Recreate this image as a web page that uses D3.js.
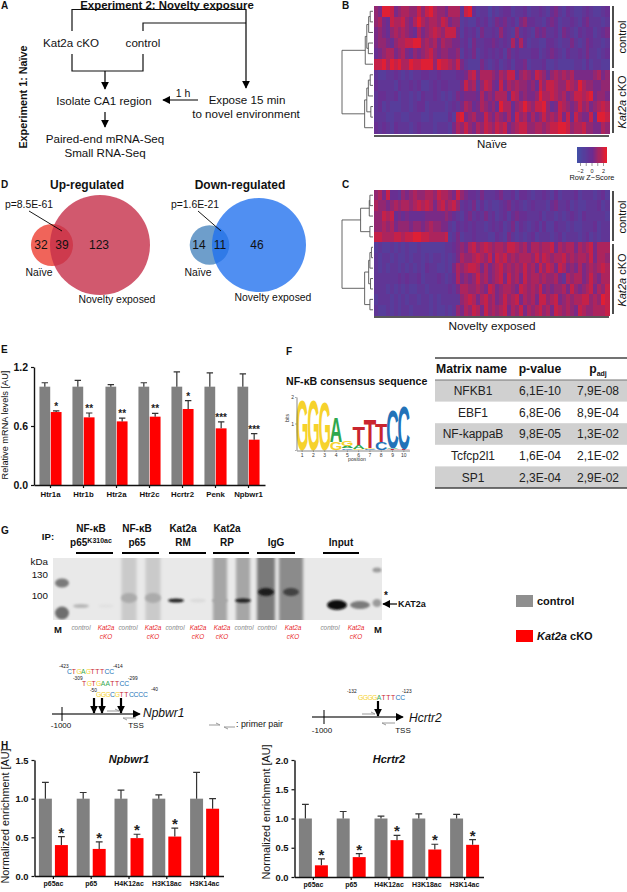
<!DOCTYPE html>
<meta charset="utf-8">
<script src="https://d3js.org/d3.v7.min.js"></script>
<style>
  body { margin: 0; background: #fff; }
  text { font-family: "Liberation Sans", Arial, sans-serif; }
</style>
<div id="my_dataviz"></div>

<script>
// ---- data ----

// heatmaps, one string per row, digit 0 (blue) .. 9 (red)
var heatNaive = [
  "6599856776 6868976657 7738942331 3234423342 3343245324 3223432234",
  "6754877865 7976776875 6623224342 3545342564 4332454233 4324533323",
  "5654676765 4756787688 8524342533 4364326343 2545334254 3243442345",
  "5665467788 9967675766 5534253344 5434374742 3322443233 5323543323",
  "4567756754 6567865665 5624352343 4342534333 4423454324 3343533234",
  "8897989779 8899969887 6853222532 3423424452 3334223222 2332423322",
  "3223343232 3344334333 3445785777 6576884676 5876467676 7555556756",
  "4333324334 3422343443 3358673687 5485767665 6486887668 7697665566",
  "3443342332 3243343232 3545554756 5777487565 5697787675 6887895665",
  "3423222332 3442333323 4357645765 6497746797 6889645876 5686756787",
  "3332233223 3322322224 2895675586 5765748675 7568676858 4865584998",
  "4343243332 3433323332 5768657687 6878567886 6776788998 6778665576"
];
var heatNovelty = [
  "6758443656 7667768776 5865443533 3453342443 2334324233 3423332342",
  "7665676776 7878757867 8634352423 2234534323 4333245334 2322333423",
  "6687845454 4445555565 4324534353 4234245443 3342332323 4324333332",
  "6676756665 6656766553 2434343323 4342352432 3424224332 3223334233",
  "8877788788 9988777782 3523343332 2432532323 4233323423 3323423233",
  "2322323232 2322222233 4565786787 6776887675 7767785767 7576785777",
  "3233232232 3323233232 3576678768 5878676777 6868767786 7677685776",
  "3232332323 2324332232 5767887575 6786767686 7586875875 6575676787",
  "3333334343 3423334323 4756568675 6785867586 7767667537 6775686577",
  "3332323232 2332333334 3577667658 7567765876 7685656675 8656785768",
  "2333232323 3233232333 3367875786 7568678576 7588678567 6778867698",
  "3223232332 3333232232 3657687586 7678576857 6786758767 6587667778"
];
// dendrograms: [height, child, child], a number is a heatmap row
var treeNaive = [1,
  [.25, [.2, [.14, [.09, 0, 1], 2], [.15, 3, 4]], 5],
  [.27, [.2, [.15, [.09, 6, 7], 8], [.07, 9, 10]], 11]];
var treeNovelty = [1,
  [.4, [.12, [.1, 0, 1], 2], [.1, 3, 4]],
  [.27, [.14, [.1, [.05, 5, 6], 7], [.08, 8, 9]], [.1, 10, 11]]];
var zTicks = [-2, -1, 0, 1, 2];

// venn counts
var vennUp = {naive: 32, both: 39, novelty: 123};
var vennDown = {naive: 14, both: 11, novelty: 46};

// panel E
var genesE = ["Htr1a", "Htr1b", "Htr2a", "Htr2c", "Hcrtr2", "Penk", "Npbwr1"];
var ctrlE = [1, 1, 1, 1, 1, 1, 1];
var ctrlErrE = [1.04, 1.065, 1.02, 1.04, 1.15, 1.14, 1.13];
var kat2aE = [.742, .688, .647, .695, .773, .576, .461];
var kat2aErrE = [.753, .732, .681, .729, .858, .641, .522];
var starsE = ["*", "**", "**", "**", "*", "***", "***"];
var ticksE = [0, .6, 1.2];

// panel F
var logoStacks = [
  [["G", 1.9]],
  [["G", 1.9]],
  [["G", 1.85]],
  [["G", .3], ["A", .95]],
  [["C", .06], ["A", .08], ["G", .22]],
  [["G", .04], ["A", .14], ["T", .68]],
  [["C", .03], ["G", .05], ["T", 1.1]],
  [["C", .3], ["T", .68]],
  [["T", .03], ["A", .06], ["C", 1.48]],
  [["T", .05], ["C", 1.65]]
];
var matrixNames = ["NFKB1", "EBF1", "NF-kappaB", "Tcfcp2l1", "SP1"];
var pValues = ["6,1E-10", "6,8E-06", "9,8E-05", "1,6E-04", "2,3E-04"];
var pAdj = ["7,9E-08", "8,9E-04", "1,3E-02", "2,1E-02", "2,9E-02"];

// panel G, the gel
var laneNames = ["control", "Kat2a cKO", "control", "Kat2a cKO", "control", "Kat2a cKO", "Kat2a cKO", "control", "control", "Kat2a cKO", "control", "Kat2a cKO"];
var laneSmear = [0, 0, .14, .14, 0, 0, .3, .3, .5, .42, 0, 0];
var laneBand = [.22, .03, .28, .28, .9, .06, .3, .92, .92, .75, 1, .5];

// panel H
var marks = ["p65ac", "p65", "H4K12ac", "H3K18ac", "H3K14ac"];
var ctrlNp = [1, 1, 1, 1, 1];
var ctrlErrNp = [1.21, 1.08, 1.11, 1.05, 1.34];
var kat2aNp = [.4, .35, .49, .51, .87];
var kat2aErrNp = [.51, .44, .54, .62, 1.0];
var starsNp = ["*", "*", "*", "*", ""];
var ticksNp = [0, .5, 1, 1.5];
var ctrlHc = [1, 1, 1, 1, 1];
var ctrlErrHc = [1.24, 1.12, 1.04, 1.08, 1.07];
var kat2aHc = [.2, .34, .63, .47, .55];
var kat2aErrHc = [.31, .40, .71, .56, .64];
var starsHc = ["*", "*", "*", "*", "*"];
var ticksHc = [0, .5, 1, 1.5, 2];

var grayBar = "#808080", redBar = "#ff0000";

var svg = d3.select("#my_dataviz").append("svg")
  .attr("width", 627).attr("height", 892)
  .style("display", "block");

var defs = svg.append("defs");
defs.append("marker").attr("id", "head")
  .attr("viewBox", "0 0 10 10").attr("refX", 9).attr("refY", 5)
  .attr("markerUnits", "userSpaceOnUse")
  .attr("markerWidth", 8).attr("markerHeight", 8).attr("orient", "auto")
  .append("path").attr("d", "M0,0 L10,5 L0,10 Z").attr("fill", "#000");
defs.append("filter").attr("id", "blur1").attr("x", "-40%").attr("y", "-80%").attr("width", "180%").attr("height", "260%")
  .append("feGaussianBlur").attr("stdDeviation", 1.1);
defs.append("filter").attr("id", "blur2").attr("x", "-40%").attr("y", "-20%").attr("width", "180%").attr("height", "140%")
  .append("feGaussianBlur").attr("stdDeviation", 1.6);
defs.append("clipPath").attr("id", "gelClip")
  .append("rect").attr("x", 53).attr("y", 558).attr("width", 329).attr("height", 62);

// little helpers
function txt(x, y, s, o) {
  o = o || {};
  var t = svg.append("text").attr("x", x).attr("y", y)
    .attr("font-size", o.size || 11)
    .attr("text-anchor", o.anchor || "middle")
    .attr("font-weight", o.bold ? "bold" : null)
    .attr("font-style", o.italic ? "italic" : null)
    .attr("fill", o.fill || "#111");
  if (o.rotate) t.attr("transform", "rotate(" + o.rotate + "," + x + "," + y + ")");
  if (Array.isArray(s)) {
    s.forEach(function(p) {
      t.append("tspan").text(p[0])
        .attr("font-style", p[1] === "i" ? "italic" : null)
        .attr("font-size", p[1] === "sup" || p[1] === "sub" ? 7 : null)
        .attr("dy", p[1] === "sup" ? -3.5 : p[1] === "sub" ? 3 : null);
    });
  } else t.text(s);
  return t;
}
function line(x1, y1, x2, y2, w, color, arrow) {
  var l = svg.append("line").attr("x1", x1).attr("y1", y1).attr("x2", x2).attr("y2", y2)
    .attr("stroke", color || "#000").attr("stroke-width", w || 1);
  if (arrow) l.attr("marker-end", "url(#head)");
  return l;
}

// ---- A ----
txt(1, 9, "A", {anchor: "start", bold: true, size: 10});
txt(167, 9, "Experiment 2: Novelty exposure", {bold: true, size: 11.4});
txt(27, 97, "Experiment 1: Naïve", {bold: true, size: 10.8, rotate: -90});
svg.append("path").attr("fill", "none").attr("stroke", "#111").attr("stroke-width", 1.2)
  .attr("d", "M72,31 V9.5 H246 M143,31 V23 H246 M72,54 V71 H143 V54");
line(246, 9, 246, 88, 1.2, "#000", true);
line(105, 71, 105, 89, 1.2, "#000", true);
line(105, 112, 105, 127, 1.2, "#000", true);
line(198, 100, 163, 100, 1.2, "#000", true);
txt(71, 47, "Kat2a cKO", {size: 11.6});
txt(143, 47, "control", {size: 11.6});
txt(104, 105, "Isolate CA1 region", {size: 11.6});
txt(247, 104, "Expose 15 min", {size: 11.6});
txt(246, 118, "to novel environment", {size: 11.6});
txt(183, 97, "1 h", {size: 10.5});
txt(105, 143, "Paired-end mRNA-Seq", {size: 11.6});
txt(105, 157, "Small RNA-Seq", {size: 11.6});

// ---- B and C heatmaps ----
var zColor = d3.scaleLinear().domain([-2.6, 0, 2.6]).range(["#424fa6", "#6c2b90", "#ee1d28"]);
function digitToZ(d) { return (d - 4.5) / 4.5 * 2.3; }

function heatmap(rows, tree, top, bottom) {
  var cells = rows.map(function(r) { return r.replace(/ /g, "").split("").map(Number); });
  var x = d3.scaleBand().domain(d3.range(cells[0].length)).range([374, 609]);
  var y = d3.scaleBand().domain(d3.range(cells.length)).range([top, bottom]);
  var g = svg.append("g").attr("shape-rendering", "crispEdges");
  cells.forEach(function(r, i) {
    g.selectAll(null).data(r).enter().append("rect")
      .attr("x", function(d, j) { return x(j); })
      .attr("y", y(i))
      .attr("width", x.bandwidth() + .5)
      .attr("height", y.bandwidth() + .5)
      .attr("fill", function(d) { return zColor(digitToZ(d)); });
  });
  // dendrogram
  var hx = d3.scaleLinear().domain([0, 1]).range([373, 342]);
  var path = d3.path();
  function walk(n) {
    if (typeof n === "number") return {y: y(n) + y.bandwidth() / 2, x: hx(0)};
    var a = walk(n[1]), b = walk(n[2]), nx = hx(n[0]);
    path.moveTo(a.x, a.y); path.lineTo(nx, a.y); path.lineTo(nx, b.y); path.lineTo(b.x, b.y);
    return {y: (a.y + b.y) / 2, x: nx};
  }
  walk(tree);
  svg.append("path").attr("d", path.toString()).attr("fill", "none")
    .attr("stroke", "#555").attr("stroke-width", .9);
}
heatmap(heatNaive, treeNaive, 6, 133);
heatmap(heatNovelty, treeNovelty, 190, 315);

txt(342, 9, "B", {anchor: "start", bold: true, size: 10});
txt(342, 188, "C", {anchor: "start", bold: true, size: 10});

line(613, 6, 613, 68, 1.4);
line(613, 71, 613, 133, 1.4);
line(613, 191, 613, 241, 1.4);
line(613, 244, 613, 314, 1.4);
txt(626, 37, "control", {size: 11, rotate: -90});
txt(626, 102, [["Kat2a", "i"], [" cKO"]], {size: 11, rotate: -90});
txt(626, 217, "control", {size: 11, rotate: -90});
txt(626, 280, [["Kat2a", "i"], [" cKO"]], {size: 11, rotate: -90});
line(374, 136, 609, 136, 1.6, "#222");
line(374, 317, 609, 317, 1.6, "#222");
txt(492, 148, "Naïve", {size: 11.5});
txt(492, 330, "Novelty exposed", {size: 11.8});

// colour key
var zx = d3.scaleLinear().domain([-2, 2]).range([580, 603]);
var keyZ = d3.range(-2.6, 2.6, .2);
svg.append("g").attr("shape-rendering", "crispEdges").selectAll("rect").data(keyZ).enter().append("rect")
  .attr("x", function(d) { return zx(d); })
  .attr("y", 147).attr("width", 1.6).attr("height", 16)
  .attr("fill", function(d) { return zColor(d); });
var keyAxis = svg.append("g").attr("transform", "translate(0,163)")
  .call(d3.axisBottom(zx).tickValues(zTicks).tickSize(3).tickPadding(3)
    .tickFormat(function(d) { return d % 2 === 0 ? d3.format("d")(d) : ""; }));
keyAxis.select(".domain").remove();
keyAxis.selectAll("line").attr("stroke", "#555").attr("stroke-width", .6);
keyAxis.selectAll("text").attr("font-size", 5.5).attr("font-family", "Liberation Sans").attr("fill", "#222");
txt(592, 180, "Row Z−Score", {size: 7.4});

// ---- D venns ----
txt(1, 188, "D", {anchor: "start", bold: true, size: 10});
function venn(v, cx1, cx2, cy, rBig, c1, c2, c2op) {
  var r = d3.scaleLinear().domain([0, v.both + v.novelty]).range([0, rBig]);
  svg.append("circle").attr("cx", cx1).attr("cy", cy).attr("r", r(v.naive + v.both) * .96).attr("fill", c1);
  svg.append("circle").attr("cx", cx2).attr("cy", cy).attr("r", r(v.both + v.novelty)).attr("fill", c2).attr("opacity", c2op);
}
venn(vennUp, 52, 100, 245, 50, "#f0645a", "#c5304a", .8);
venn(vennDown, 209.5, 259, 245, 47, "#6e9ecb", "#1f6fee", .78);
txt(87, 189, "Up-regulated", {bold: true, size: 12});
txt(240, 189, "Down-regulated", {bold: true, size: 12});
txt(41, 249, vennUp.naive, {size: 12});
txt(62, 249, vennUp.both, {size: 12});
txt(99, 249, vennUp.novelty, {size: 12});
txt(199, 249, vennDown.naive, {size: 12});
txt(220, 249, vennDown.both, {size: 12});
txt(257, 249, vennDown.novelty, {size: 12});
txt(29, 208, "p=8.5E-61", {size: 10.4});
txt(195, 208, "p=1.6E-21", {size: 10.4});
line(29, 211, 62, 231, .9);
line(198, 211, 221, 231, .9);
txt(39, 276, "Naïve", {size: 10.4});
txt(198, 276, "Naïve", {size: 10.4});
txt(117, 303, "Novelty exposed", {size: 10.4});
txt(273, 301, "Novelty exposed", {size: 10.4});

// ---- grouped bars, used for E and H ----
function bars(o) {
  var x = d3.scaleBand().domain(o.cats).range(o.xr).paddingInner(o.pad).paddingOuter(o.pad / 2);
  var sub = d3.scaleBand().domain([0, 1]).range([0, x.bandwidth()]).paddingInner(o.gap);
  var y = d3.scaleLinear().domain(o.yd).range(o.yr);
  var rows = o.cats.map(function(c, i) {
    return [{c: c, s: 0, v: o.ctrl[i], e: o.ctrlErr[i], color: grayBar},
            {c: c, s: 1, v: o.kat[i], e: o.katErr[i], color: redBar, star: o.stars[i]}];
  });
  var all = d3.merge(rows);
  var g = svg.append("g");
  g.selectAll("rect").data(all).enter().append("rect")
    .attr("x", function(d) { return x(d.c) + sub(d.s); })
    .attr("y", function(d) { return y(d.v); })
    .attr("width", sub.bandwidth())
    .attr("height", function(d) { return y(0) - y(d.v); })
    .attr("fill", function(d) { return d.color; });
  // error bars
  function mid(d) { return x(d.c) + sub(d.s) + sub.bandwidth() / 2; }
  g.selectAll(".eb").data(all).enter().append("path").attr("class", "eb")
    .attr("d", function(d) {
      return "M" + mid(d) + "," + y(d.v) + "V" + y(d.e) + "M" + (mid(d) - o.cap) + "," + y(d.e) + "H" + (mid(d) + o.cap);
    })
    .attr("fill", "none").attr("stroke", "#333").attr("stroke-width", 1.2);
  g.selectAll(".st").data(all.filter(function(d) { return d.star; })).enter().append("text").attr("class", "st")
    .attr("x", mid)
    .attr("y", function(d) { return y(d.e) + o.starDy; })
    .attr("text-anchor", "middle").attr("font-size", o.starSize).attr("font-weight", "bold")
    .attr("fill", "#222")
    .text(function(d) { return d.star; });
  // axes
  var ax = svg.append("g").attr("transform", "translate(" + o.xr[0] + ",0)")
    .call(d3.axisLeft(y).tickValues(o.yTicks).tickFormat(d3.format(".1f")).tickSize(3).tickPadding(3).tickSizeOuter(0));
  ax.selectAll("text").attr("font-size", o.yFont).attr("font-weight", "bold").attr("font-family", "Liberation Sans").attr("fill", "#111");
  var bx = svg.append("g").attr("transform", "translate(0," + y(0) + ")")
    .call(d3.axisBottom(x).tickSize(3).tickPadding(o.xPad).tickSizeOuter(0));
  bx.selectAll("text").attr("font-size", o.xFont).attr("font-weight", "bold").attr("font-family", "Liberation Sans").attr("fill", "#111");
  [ax, bx].forEach(function(a) {
    a.select(".domain").attr("stroke", "#111").attr("stroke-width", 1.4);
    a.selectAll("line").attr("stroke", "#111").attr("stroke-width", 1.2);
  });
}

// ---- E ----
txt(1, 353, "E", {anchor: "start", bold: true, size: 10});
bars({cats: genesE, ctrl: ctrlE, ctrlErr: ctrlErrE, kat: kat2aE, katErr: kat2aErrE, stars: starsE,
  xr: [34, 265], yd: [0, 1.2], yr: [485, 367], yTicks: ticksE, pad: .33, gap: .05, cap: 3.2,
  starDy: -1, starSize: 10, yFont: 10.5, xFont: 7.8, xPad: 3});
txt(8, 425, "Relative mRNA levels [AU]", {size: 9.2, rotate: -90});

// ---- F ----
txt(286, 355, "F", {anchor: "start", bold: true, size: 10});
txt(286, 385, "NF-κB consensus sequence", {anchor: "start", bold: true, size: 10.6});

var logoX = d3.scaleBand().domain(d3.range(1, 11)).range([296.5, 409.5]);
var logoY = d3.scaleLinear().domain([0, 2]).range([450, 397]);
var letterColor = {G: "#f6d22c", A: "#2fa84f", T: "#c9252e", C: "#2272b8"};
var letterWidth = {G: .778, A: .722, T: .611, C: .722};
logoStacks.forEach(function(st, i) {
  var base = 0;
  st.forEach(function(s) {
    var h = logoY(base) - logoY(base + s[1]);
    var cx = logoX(i + 1) + logoX.bandwidth() / 2;
    svg.append("text").text(s[0])
      .attr("text-anchor", "middle").attr("font-size", 10).attr("font-weight", "bold")
      .attr("fill", letterColor[s[0]])
      .attr("transform", "translate(" + cx + "," + logoY(base) + ") scale(" + (12.5 / (letterWidth[s[0]] * 10)) + "," + (h / 7.2) + ")");
    base += s[1];
  });
});
var lx = svg.append("g").attr("transform", "translate(0,450.5)")
  .call(d3.axisBottom(logoX).tickSize(1.5).tickPadding(1).tickSizeOuter(0));
lx.selectAll("text").attr("font-size", 5).attr("font-family", "Liberation Sans").attr("fill", "#333");
var ly = svg.append("g").attr("transform", "translate(296.5,0)")
  .call(d3.axisLeft(logoY).tickValues([0, 1, 2]).tickSize(1.5).tickPadding(1).tickFormat(function(d) { return d ? d : ""; }).tickSizeOuter(0));
ly.selectAll("text").attr("font-size", 5).attr("font-family", "Liberation Sans").attr("fill", "#333");
[lx, ly].forEach(function(a) {
  a.select(".domain").attr("stroke", "#555").attr("stroke-width", .7);
  a.selectAll("line").attr("stroke", "#555").attr("stroke-width", .5);
});
txt(357, 461, "position", {size: 5.2, fill: "#333"});
txt(289, 418, "bits", {size: 5.2, rotate: -90, fill: "#333"});

// table
var rowY = d3.scaleBand().domain(d3.range(matrixNames.length)).range([380, 488]);
svg.append("g").selectAll("rect").data(d3.range(0, 5, 2)).enter().append("rect")
  .attr("x", 435).attr("width", 192)
  .attr("y", function(d) { return rowY(d); })
  .attr("height", rowY.bandwidth())
  .attr("fill", "#d0d0d0");
line(435, 358, 627, 358, 1.4, "#444");
line(435, 380, 627, 380, 1.2, "#777");
line(435, 488, 627, 488, 1.4, "#444");
txt(436, 373, "Matrix name", {anchor: "start", bold: true, size: 12.2});
txt(540, 373, "p-value", {bold: true, size: 12.2});
txt(598, 373, [["p"], ["adj", "sub"]], {bold: true, size: 12.2});
matrixNames.forEach(function(n, i) {
  var by = rowY(i) + rowY.bandwidth() / 2 + 4.4;
  txt(473, by, n, {size: 12, fill: "#222"});
  txt(540, by, pValues[i], {size: 12, fill: "#222"});
  txt(598, by, pAdj[i], {size: 12, fill: "#222"});
});

// ---- G ----
txt(1, 534, "G", {anchor: "start", bold: true, size: 10});
txt(48, 540, "IP:", {bold: true, size: 9.6});
txt(91, 532, "NF-κB", {bold: true, size: 10});
txt(91, 546, [["p65"], ["K310ac", "sup"]], {bold: true, size: 10});
txt(137, 532, "NF-κB", {bold: true, size: 10});
txt(137, 546, "p65", {bold: true, size: 10});
txt(183, 532, "Kat2a", {bold: true, size: 10});
txt(183, 546, "RM", {bold: true, size: 10});
txt(227, 532, "Kat2a", {bold: true, size: 10});
txt(227, 546, "RP", {bold: true, size: 10});
txt(276, 546, "IgG", {bold: true, size: 10});
txt(341, 546, "Input", {bold: true, size: 10});
[[76, 113], [122, 159], [169, 206], [213, 249], [257, 295], [323, 359]].forEach(function(s) {
  line(s[0], 553, s[1], 553, 2, "#000");
});

var gelShade = d3.scaleLinear().domain([0, 1]).range(["#e9e9e9", "#0a0a0a"]);
var laneX = [81, 106, 129, 153, 176, 198, 220, 243, 266, 291, 337, 360];
var laneW = [16, 16, 15, 15, 16, 16, 14, 14, 18, 24, 16, 16];
var gel = svg.append("g").attr("clip-path", "url(#gelClip)");
gel.append("rect").attr("x", 53).attr("y", 558).attr("width", 329).attr("height", 62).attr("fill", "#e9e9e9");
gel.selectAll(".smear").data(laneSmear).enter().append("rect").attr("class", "smear")
  .attr("x", function(d, i) { return laneX[i] - laneW[i] / 2; })
  .attr("y", 554).attr("width", function(d, i) { return laneW[i]; }).attr("height", 72)
  .attr("filter", "url(#blur2)")
  .attr("fill", function(d) { return gelShade(d); });
gel.selectAll(".band").data(laneBand).enter().append("ellipse").attr("class", "band")
  .attr("cx", function(d, i) { return laneX[i]; })
  .attr("cy", function(d, i) { return i < 2 ? 606 : i < 4 ? 598 : i < 8 ? 600.5 : i < 10 ? 592 : 605; })
  .attr("rx", function(d, i) { return i > 9 ? 10 : 8; })
  .attr("ry", function(d, i) { return i === 10 ? 5 : i > 7 ? 4 : i === 2 || i === 3 ? 5 : 2; })
  .attr("filter", "url(#blur1)")
  .attr("fill", function(d) { return gelShade(d); });
// markers left and right
[[62, 583, 7, 4.5, .5], [62, 613, 7, 6.5, .55], [377, 570, 4.5, 2.5, .35], [377, 603, 4.5, 4, .35]].forEach(function(m) {
  gel.append("ellipse").attr("cx", m[0]).attr("cy", m[1]).attr("rx", m[2]).attr("ry", m[3])
    .attr("fill", gelShade(m[4])).attr("filter", "url(#blur1)");
});
txt(48, 565, "kDa", {anchor: "end", size: 9.8});
txt(48, 578, "130", {anchor: "end", size: 9.8});
txt(48, 599, "100", {anchor: "end", size: 9.8});
txt(58, 633, "M", {bold: true, size: 9.5});
txt(378, 633, "M", {bold: true, size: 9.5});
var laneTextX = [81, 106, 128, 153, 175, 198, 222, 244, 267, 293, 330, 356];
laneNames.forEach(function(n, i) {
  if (n === "control") {
    txt(laneTextX[i], 630, n, {size: 6.4, italic: true, fill: "#8a8a8a"});
  } else {
    txt(laneTextX[i], 630, "Kat2a", {size: 6.4, italic: true, fill: "#e8262a"});
    txt(laneTextX[i], 639, "cKO", {size: 6.4, italic: true, fill: "#e8262a"});
  }
});
txt(386, 599, "*", {bold: true, size: 10});
line(397, 604, 383, 604, 1.2, "#000", true);
txt(398, 607, "KAT2a", {anchor: "start", bold: true, size: 9});

// legend
svg.append("rect").attr("x", 516).attr("y", 595).attr("width", 17).attr("height", 12).attr("fill", "#8f8f8f");
svg.append("rect").attr("x", 516).attr("y", 630).attr("width", 17).attr("height", 12).attr("fill", redBar);
txt(537, 605, "control", {anchor: "start", bold: true, size: 11});
txt(537, 640, [["Kat2a", "i"], [" cKO"]], {anchor: "start", bold: true, size: 11});

// ---- promoter sketches ----
function seq(x, y, s) {
  s.split("").forEach(function(c, i) {
    txt(x + i * 4.7, y, c, {anchor: "start", size: 6.8, fill: letterColor[c]});
  });
}
function primer(x1, x2, y) {
  var dir = x2 > x1 ? -1 : 1;
  svg.append("path").attr("fill", "none").attr("stroke", "#999").attr("stroke-width", 1)
    .attr("d", "M" + x1 + "," + y + "H" + x2 + "l" + (dir * 4) + "," + (dir < 0 ? -2 : 2));
}
txt(59, 668, "-423", {anchor: "start", size: 4.8});
seq(67, 674, "CTGAGTTTCC");
txt(113, 668, "-414", {anchor: "start", size: 4.8});
txt(73, 680, "-309", {anchor: "start", size: 4.8});
seq(82, 686, "TGTGAATTCC");
txt(128, 680, "-299", {anchor: "start", size: 4.8});
txt(90, 692, "-50", {anchor: "start", size: 4.8});
seq(96, 697, "GGGCGTTCCCC");
txt(151, 691, "-40", {anchor: "start", size: 4.8});
line(52, 714, 140, 714, 1.6, "#444", true);
line(62, 707, 62, 721, 1, "#000");
[94, 102, 121].forEach(function(x) { line(x, 698, x, 713, 2.2, "#000", true); });
primer(107, 119, 711);
primer(136, 123, 718);
txt(61, 728, "-1000", {size: 8});
txt(136, 728, "TSS", {size: 8});
txt(143, 717, "Npbwr1", {anchor: "start", italic: true, size: 12});

primer(209, 220, 725);
primer(235, 224, 727);
txt(236, 727, ": primer pair", {anchor: "start", size: 8.8});

txt(347, 693, "-132", {anchor: "start", size: 4.8});
seq(358, 700, "GGGGATTTCC");
txt(402, 693, "-123", {anchor: "start", size: 4.8});
line(312, 717, 403, 717, 1.6, "#444", true);
line(324, 710, 324, 724, 1, "#000");
line(378, 701, 378, 716, 2.2, "#000", true);
primer(362, 375, 714);
primer(395, 382, 723);
txt(322, 733, "-1000", {size: 8});
txt(403, 733, "TSS", {size: 8});
txt(409, 722, "Hcrtr2", {anchor: "start", italic: true, size: 12});

// ---- H ----
txt(1, 749, "H", {anchor: "start", bold: true, size: 10});
bars({cats: marks, ctrl: ctrlNp, ctrlErr: ctrlErrNp, kat: kat2aNp, katErr: kat2aErrNp, stars: starsNp,
  xr: [34.5, 223.5], yd: [0, 1.5], yr: [876, 760], yTicks: ticksNp, pad: .233, gap: .19, cap: 3.4,
  starDy: 1, starSize: 15, yFont: 9.4, xFont: 7, xPad: 2.5});
bars({cats: marks, ctrl: ctrlHc, ctrlErr: ctrlErrHc, kat: kat2aHc, katErr: kat2aErrHc, stars: starsHc,
  xr: [294.5, 483.5], yd: [0, 2], yr: [877, 760], yTicks: ticksHc, pad: .233, gap: .19, cap: 3.4,
  starDy: 1, starSize: 15, yFont: 9.4, xFont: 7, xPad: 2.5});
txt(129, 763, "Npbwr1", {bold: true, italic: true, size: 11});
txt(389, 763, "Hcrtr2", {bold: true, italic: true, size: 11});
txt(9, 816, "Normalized enrichment [AU]", {size: 10.8, rotate: -90});
txt(270, 812, "Normalized enrichment [AU]", {size: 10.8, rotate: -90});
</script>
